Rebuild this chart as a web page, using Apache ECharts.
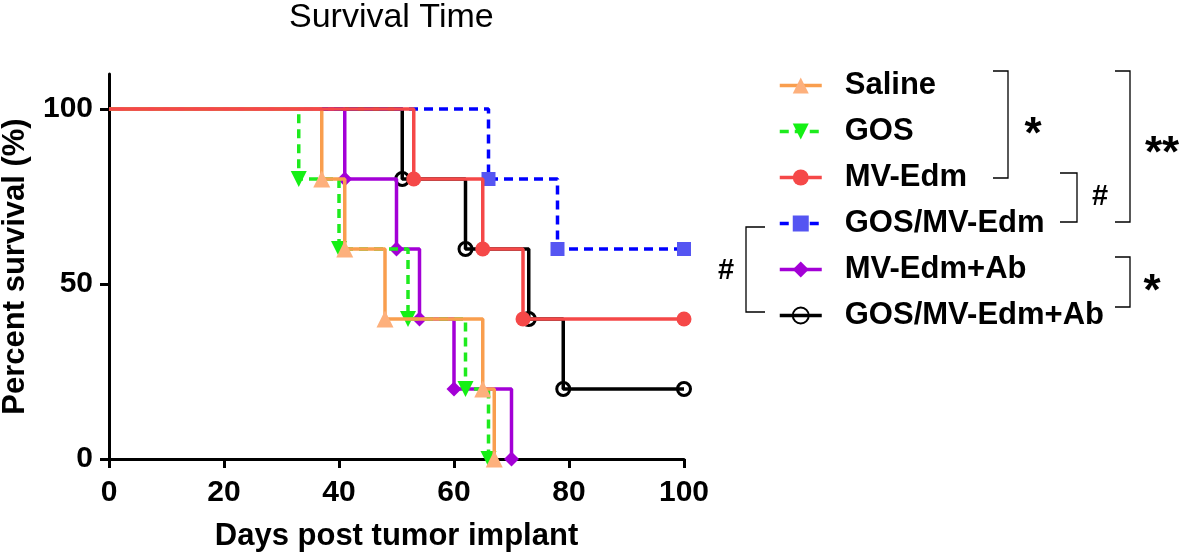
<!DOCTYPE html>
<html><head><meta charset="utf-8">
<script src="https://cdn.jsdelivr.net/npm/echarts@6/dist/echarts.min.js"></script>
<style>html,body{margin:0;padding:0;background:#fff}#c{width:1182px;height:555px}</style>
</head><body><div id="c"></div>
<script>
// ---- data ----
const groupNames = ['Saline', 'GOS', 'MV-Edm', 'GOS/MV-Edm', 'MV-Edm+Ab', 'GOS/MV-Edm+Ab'];
const salineTime = [0, 37, 41, 48, 65, 67];
const salineSurv = [100, 80, 60, 40, 20, 0];
const gosTime = [0, 33, 40, 52, 62, 66];
const gosSurv = [100, 80, 60, 40, 20, 0];
const mvTime = [0, 53, 65, 72, 100];
const mvSurv = [100, 80, 60, 40, 40];
const gosMvTime = [0, 66, 78, 100];
const gosMvSurv = [100, 80, 60, 60];
const mvAbTime = [0, 41, 50, 54, 60, 70];
const mvAbSurv = [100, 80, 60, 40, 20, 0];
const gosMvAbTime = [0, 51, 62, 73, 79, 100];
const gosMvAbSurv = [100, 80, 60, 40, 20, 20];
const xTicks = [0, 20, 40, 60, 80, 100];
const yTicks = [0, 50, 100];

const FONT = '"Liberation Sans", Arial, sans-serif';

function pts(t, s) {
  return t.map((x, i) => i === 0 ? { value: [x, s[i]], symbol: 'none' } : [x, s[i]]);
}
function mk(name, t, s, color, markColor, symbol, opts) {
  return Object.assign({
    name: name, type: 'line', step: 'end', data: pts(t, s),
    symbol: symbol, symbolSize: 14, showAllSymbol: true,
    lineStyle: { color: color, width: 3.5 },
    itemStyle: { color: markColor, opacity: 1 },
    emphasis: { disabled: true }, animation: false
  }, opts || {});
}

const series = [
  mk(groupNames[0], salineTime, salineSurv, '#F99E4E', '#FDB07C', 'triangle', { z: 6, symbolSize: 17 }),
  mk(groupNames[1], gosTime, gosSurv, '#1EEB1E', '#14F014', 'triangle', { z: 5, symbolRotate: 180, symbolSize: 16, lineStyle: { color: '#1EEB1E', width: 3.5, type: [9, 6] } }),
  mk(groupNames[2], mvTime, mvSurv, '#F54848', '#F54848', 'circle', { z: 7, symbolSize: 15 }),
  mk(groupNames[3], gosMvTime, gosMvSurv, '#0000FF', '#5555F2', 'rect', { z: 4, symbolSize: 14, lineStyle: { color: '#0000FF', width: 3.5, type: [9, 6] } }),
  mk(groupNames[4], mvAbTime, mvAbSurv, '#A300D6', '#A300D6', 'diamond', { z: 3, symbolSize: 15 }),
  mk(groupNames[5], gosMvAbTime, gosMvAbSurv, '#000000', 'rgba(255,255,255,0)', 'circle', { z: 2, symbolSize: 13, itemStyle: { color: 'rgba(255,255,255,0)', borderWidth: 3, borderColor: '#000' } })
];

function bracket(x1, x2, yTop, yBot) {
  return { type: 'polyline', shape: { points: [[x1, yTop], [x2, yTop], [x2, yBot], [x1, yBot]] }, style: { stroke: '#000', lineWidth: 1.3, fill: null } };
}
function leftBracket(x1, x2, yTop, yBot) {
  return { type: 'polyline', shape: { points: [[x2, yTop], [x1, yTop], [x1, yBot], [x2, yBot]] }, style: { stroke: '#000', lineWidth: 1.3, fill: null } };
}
function sig(txt, x, y, size) {
  return { type: 'text', x: x, y: y, style: { text: txt, fill: '#000', font: 'bold ' + size + 'px ' + FONT, align: 'center', verticalAlign: 'middle' } };
}

const chart = echarts.init(document.getElementById('c'), null, { renderer: 'canvas' });
chart.setOption({
  backgroundColor: '#fff',
  animation: false,
  title: { text: 'Survival Time', left: 289, top: 1, padding: 0, textStyle: { fontFamily: FONT, fontWeight: 'normal', fontSize: 34, color: '#000' } },
  grid: { left: 109, right: 498, top: 74, bottom: 96, outerBoundsMode: 'none', containLabel: false },
  xAxis: {
    type: 'value', min: 0, max: 100, interval: 20,
    name: 'Days post tumor implant', nameLocation: 'middle', nameGap: 62,
    nameTextStyle: { fontFamily: FONT, fontWeight: 'bold', fontSize: 31, color: '#000' },
    axisLine: { lineStyle: { color: '#000', width: 3 } },
    axisTick: { show: true, length: 9, lineStyle: { color: '#000', width: 3 } },
    axisLabel: { margin: 19, fontFamily: FONT, fontWeight: 'bold', fontSize: 30, color: '#000' },
    splitLine: { show: false }
  },
  yAxis: {
    type: 'value', min: 0, max: 110,
    name: 'Percent survival (%)', nameLocation: 'middle', nameGap: 78,
    nameTextStyle: { fontFamily: FONT, fontWeight: 'bold', fontSize: 31, color: '#000' },
    axisLine: { show: true, lineStyle: { color: '#000', width: 3 } },
    axisTick: { show: true, length: 9, customValues: yTicks, lineStyle: { color: '#000', width: 3 } },
    axisLabel: { margin: 16, customValues: yTicks, fontFamily: FONT, fontWeight: 'bold', fontSize: 30, color: '#000' },
    splitLine: { show: false }
  },
  legend: {
    orient: 'vertical', left: 773, top: 65,
    data: groupNames,
    itemWidth: 42, itemHeight: 20, itemGap: 15,
    selectedMode: false,
    lineStyle: { width: 3.5 },
    textStyle: { fontFamily: FONT, fontWeight: 'bold', fontSize: 31, lineHeight: 31, color: '#000', padding: [0, 0, 0, 18] }
  },
  graphic: [
    bracket(993, 1008, 71, 178),
    sig('*', 1033, 136, 44),
    bracket(1060, 1077, 173, 222),
    sig('#', 1100, 197, 29),
    bracket(1115, 1130, 71, 222),
    sig('**', 1162, 155, 44),
    leftBracket(746, 765, 227, 312),
    sig('#', 726, 271, 29),
    bracket(1115, 1130, 257, 307),
    sig('*', 1152, 293, 44)
  ],
  series: series
});
</script></body></html>
